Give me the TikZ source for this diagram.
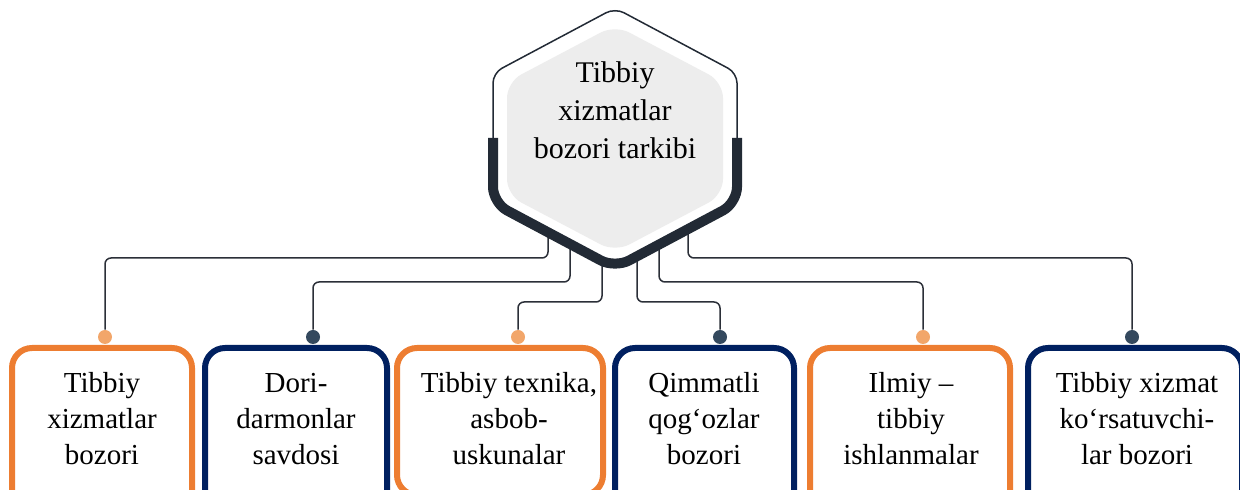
\documentclass[tikz,border=0pt]{standalone}
\usepackage{fontspec}
\setmainfont{Liberation Serif}
\usepackage{xcolor}
\usepackage{tikz}
\usetikzlibrary{shapes,arrows,positioning}
\definecolor{orangeline}{HTML}{ED7D31}
\definecolor{navyline}{HTML}{002060}
\definecolor{orangedot}{HTML}{F2A66A}
\definecolor{navydot}{HTML}{34495E}
\definecolor{hexdark}{HTML}{222A35}
\definecolor{hexgray}{HTML}{EDEDED}
\definecolor{linkgray}{HTML}{2B2F38}
\pgfdeclarelayer{back}
\pgfsetlayers{back,main}
\tikzstyle{block_orange} = [rectangle, draw=orangeline, line width=3pt, fill=white,
    rounded corners=10pt, anchor=north, minimum height=100pt]
\tikzstyle{block_navy} = [rectangle, draw=navyline, line width=3pt, fill=white,
    rounded corners=10pt, anchor=north, minimum height=100pt]
\tikzstyle{boxtext} = [align=center, inner sep=0pt, font=\fontsize{14.5}{18}\selectfont]
\tikzstyle{hubtext} = [align=center, inner sep=0pt, font=\fontsize{15}{19}\selectfont]
\tikzstyle{dot_orange} = [circle, fill=orangedot, inner sep=0pt, minimum size=7pt]
\tikzstyle{dot_navy} = [circle, fill=navydot, inner sep=0pt, minimum size=7pt]
\tikzstyle{line} = [draw=linkgray, line width=0.75pt, rounded corners=3pt]
\tikzstyle{hexthin} = [draw=hexdark, line width=0.75pt, rounded corners=5pt]
\tikzstyle{hexthick} = [draw=hexdark, line width=5pt, rounded corners=8pt]

\begin{document}
\begin{tikzpicture}[x=0.5pt, y=-0.5pt]
    \useasboundingbox (0,0) rectangle (1240,490);
    % Place nodes
    \node [block_orange, minimum width=90pt] (b1) at (102,345) {};
    \node [block_navy, minimum width=91pt] (b2) at (296,345) {};
    \node [block_orange, minimum width=103pt, minimum height=73.5pt] (b3) at (500,345) {};
    \node [block_navy, minimum width=89.5pt] (b4) at (704.5,345) {};
    \node [block_orange, minimum width=100pt] (b5) at (910,345) {};
    \node [block_navy, minimum width=107pt] (b6) at (1135,345) {};

    \node [boxtext] (t1) at (102,419) {Tibbiy\\xizmatlar\\bozori};
    \node [boxtext] (t2) at (296,419) {Dori-\\darmonlar\\savdosi};
    \node [boxtext] (t3) at (509,419) {Tibbiy texnika,\\asbob-\\uskunalar};
    \node [boxtext] (t4) at (704,419) {Qimmatli\\qog‘ozlar\\bozori};
    \node [boxtext] (t5) at (911,419) {Ilmiy –\\tibbiy\\ishlanmalar};
    \node [boxtext] (t6) at (1137,419) {Tibbiy xizmat\\ko‘rsatuvchi-\\lar bozori};

    % hexagon
    \fill [white, rounded corners=5pt] (615,8) -- (493,73) -- (493,203) -- (615,268)
        -- (737,203) -- (737,73) -- cycle;
    \path [hexthin] (493,138) -- (493,73) -- (615,8) -- (737,73) -- (737,138);
    \path [hexthick] (493,138) -- (493,203) -- (615,268) -- (737,203) -- (737,138);
    \fill [hexgray, rounded corners=8pt] (615,25) -- (507,82) -- (507,195) -- (615,252)
        -- (723,195) -- (723,82) -- cycle;
    \node [hubtext] (hub) at (615,110) {Tibbiy\\xizmatlar\\bozori tarkibi};

    \coordinate (h1) at (548,200);
    \coordinate (h2) at (570,200);
    \coordinate (h3) at (602,200);
    \coordinate (h4) at (637,200);
    \coordinate (h5) at (659,200);
    \coordinate (h6) at (688,200);

    % Draw edges
    \begin{pgfonlayer}{back}
    \node [dot_orange] (d1) at (105,337) {};
    \node [dot_navy] (d2) at (313,337) {};
    \node [dot_orange] (d3) at (518,337) {};
    \node [dot_navy] (d4) at (720,337) {};
    \node [dot_orange] (d5) at (923,337) {};
    \node [dot_navy] (d6) at (1132,337) {};

    \path [line] (h1) -- ++(0,58) -| (d1);
    \path [line] (h2) -- ++(0,82) -| (d2);
    \path [line] (h3) -- ++(0,102) -| (d3);
    \path [line] (h4) -- ++(0,102) -| (d4);
    \path [line] (h5) -- ++(0,82) -| (d5);
    \path [line] (h6) -- ++(0,58) -| (d6);
    \end{pgfonlayer}
\end{tikzpicture}
\end{document}
